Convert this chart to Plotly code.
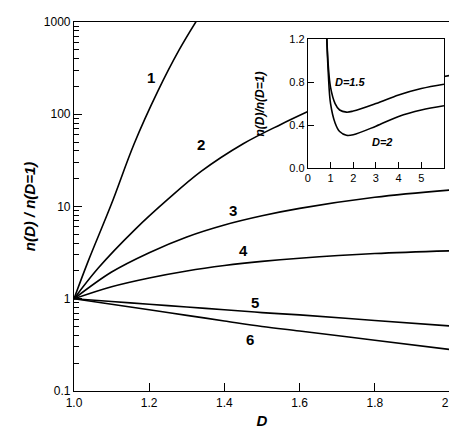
import plotly.graph_objects as go

# main panel: n(D)/n(D=1) vs D
d_1 = [1.0, 1.037, 1.099, 1.16, 1.223, 1.28, 1.33]
v_1 = [1, 2.51, 10.5, 47.9, 178, 501, 1096]
d_2a = [1.0, 1.064, 1.162, 1.25, 1.338, 1.45, 1.55, 1.622]
v_2a = [1, 2.14, 5.62, 12.0, 24.0, 47.9, 77.6, 107]
d_2b = [1.984, 2.0]
v_2b = [257, 263]
d_all = [1.0, 1.1, 1.2, 1.3, 1.4, 1.5, 1.6, 1.8, 2.0]
v_3 = [1, 1.95, 3.16, 4.68, 6.31, 7.94, 9.55, 12.6, 15.1]
v_4 = [1, 1.35, 1.68, 2.0, 2.29, 2.54, 2.75, 3.09, 3.31]
v_5 = [1, 0.933, 0.871, 0.813, 0.759, 0.708, 0.668, 0.582, 0.507]
v_6 = [1, 0.871, 0.759, 0.661, 0.575, 0.501, 0.447, 0.355, 0.282]

# inset: n(D)/n(D=1) vs i
i_vals = [0.8, 0.9, 1.0, 1.2, 1.4, 1.7, 2.0, 3.0, 4.0, 5.0, 6.0]
inset_15 = [1.4, 0.95, 0.75, 0.6, 0.54, 0.52, 0.53, 0.6, 0.68, 0.74, 0.78]
inset_2 = [1.4, 0.88, 0.6, 0.42, 0.34, 0.305, 0.31, 0.39, 0.48, 0.54, 0.58]

minor_vals = [m * 10.0 ** e for e in range(-1, 3) for m in range(2, 10)]

font = "Liberation Sans, Arial, sans-serif"
line = dict(color="black", width=1.6, shape="spline")

fig = go.Figure()
for xs, ys in [(d_1, v_1), (d_2a, v_2a), (d_2b, v_2b), (d_all, v_3),
               (d_all, v_4), (d_all, v_5), (d_all, v_6)]:
    fig.add_trace(go.Scatter(x=xs, y=ys, mode="lines", line=line))
for ys in [inset_15, inset_2]:
    fig.add_trace(go.Scatter(x=i_vals, y=ys, mode="lines", line=line,
                             xaxis="x2", yaxis="y2"))

# curve labels
labels = [("1", 1.205, 2.40), ("2", 1.338, 1.67), ("3", 1.423, 0.96), ("4", 1.452, 0.52),
          ("5", 1.481, -0.04), ("6", 1.468, -0.44)]
for txt, x, y in labels:
    fig.add_annotation(x=x, y=y, text=f"<b>{txt}</b>", showarrow=False,
                       font=dict(size=15, family=font, color="black"))
fig.add_annotation(x=1.9, y=0.8, xref="x2", yref="y2", text="<b><i>D=1.5</i></b>",
                   showarrow=False, font=dict(size=11, family=font, color="black"))
fig.add_annotation(x=3.3, y=0.24, xref="x2", yref="y2", text="<b><i>D=2</i></b>",
                   showarrow=False, font=dict(size=11, family=font, color="black"))
fig.add_annotation(x=5.85, y=-0.12, xref="x2", yref="y2", text="<b><i>i</i></b>",
                   showarrow=False, font=dict(size=14, family=font, color="black"))
fig.add_annotation(x=0.495, y=0.87, xref="paper", yref="paper", textangle=-90,
                   text="<b><i>n(D)/n(D=1)</i></b>", showarrow=False,
                   font=dict(size=12, family=font, color="black"))

axis_common = dict(showgrid=False, zeroline=False, showline=True, linecolor="black",
                   linewidth=1.2, mirror=True, ticks="inside", tickcolor="black",
                   automargin=False, ticklabeloverflow="allow",
                   tickfont=dict(size=12, family=font, color="black"))

fig.update_layout(
    width=457, height=430,
    margin=dict(l=66, r=15, t=14, b=47),
    paper_bgcolor="white", plot_bgcolor="white",
    showlegend=False,
    xaxis=dict(range=[1.0, 2.0], tickvals=[1.0, 1.2, 1.4, 1.6, 1.8, 2.0],
               ticktext=["1.0", "1.2", "1.4", "1.6", "1.8", "2.0"], ticklen=8,
               title=dict(text="<b><i>D</i></b>", font=dict(size=15, family=font, color="black"),
                          standoff=6),
               **axis_common),
    yaxis=dict(type="log", range=[-1, 3], tickvals=[0.1, 1, 10, 100, 1000],
               ticktext=["0.1", "1", "10", "100", "1000"], ticklen=8,
               minor=dict(ticks="inside", ticklen=5, tickcolor="black", tickvals=minor_vals),
               title=dict(text="<b><i>n(D) / n(D=1)</i></b>",
                          font=dict(size=15, family=font, color="black"), standoff=4),
               **axis_common),
    xaxis2=dict(domain=[0.622, 0.984], anchor="y2", range=[0, 6],
                tickvals=[0, 1, 2, 3, 4, 5], ticklen=6, **axis_common),
    yaxis2=dict(domain=[0.604, 0.954], anchor="x2", range=[0, 1.2],
                tickvals=[0, 0.4, 0.8, 1.2], ticktext=["0.0", "0.4", "0.8", "1.2"], ticklen=6,
                **axis_common),
)
fig.update_xaxes(tickfont_size=11, selector=dict(anchor="y2"))
fig.update_yaxes(tickfont_size=11, selector=dict(anchor="x2"))

fig.write_html("out.html")
